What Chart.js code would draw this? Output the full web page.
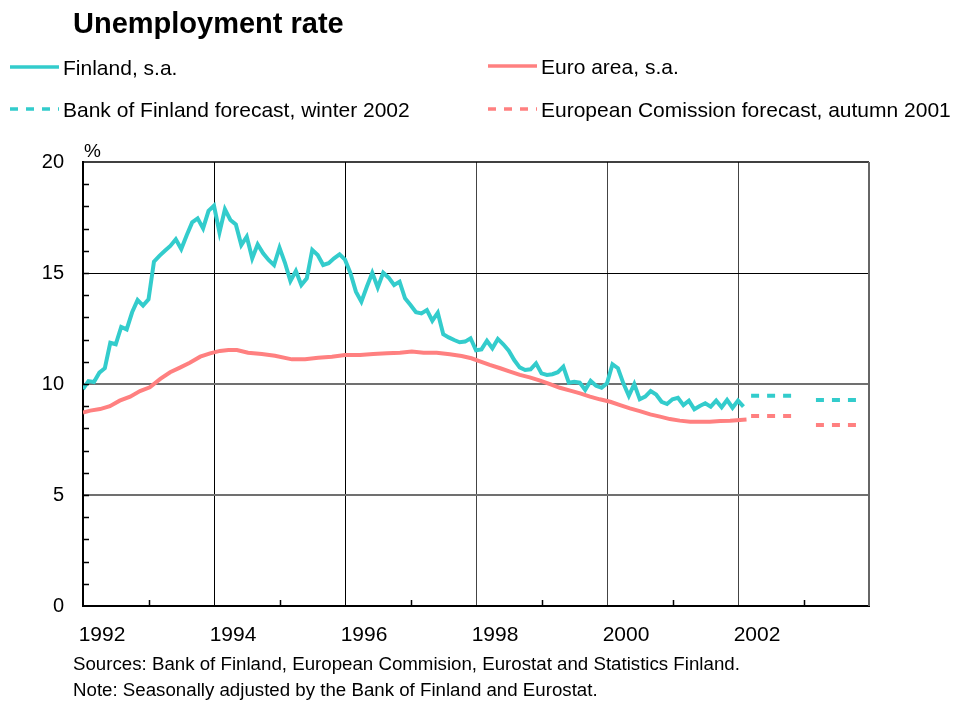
<!DOCTYPE html>
<html>
<head>
<meta charset="utf-8">
<title>Unemployment rate</title>
<script src="https://cdn.jsdelivr.net/npm/chart.js@4.4.1/dist/chart.umd.min.js"></script>
<style>
  html, body { margin: 0; padding: 0; background: #fff; }
  #wrap { width: 955px; height: 704px; }
</style>
</head>
<body>
<div id="wrap"><canvas id="unemployment-chart" width="955" height="704"></canvas></div>
<script>
//? Finland, monthly from Jan 1992, s.a. %
const finlandStart = 1992
const finland = [
    9.77, 10.13, 10.09, 10.51, 10.71, 11.86, 11.79, 12.57, 12.46, 13.23, 13.78, 13.53,
    13.81, 15.51, 15.77, 16.0, 16.22, 16.52, 16.08, 16.7, 17.28, 17.46, 17.01, 17.8,
    18.03, 16.83, 17.87, 17.39, 17.19, 16.26, 16.64, 15.66, 16.29, 15.89, 15.59, 15.36,
    16.14, 15.46, 14.64, 15.09, 14.46, 14.76, 16.04, 15.81, 15.36, 15.44, 15.66, 15.84,
    15.6, 14.99, 14.16, 13.71, 14.38, 15.01, 14.35, 15.01, 14.79, 14.46, 14.61, 13.86,
    13.56, 13.23, 13.18, 13.33, 12.85, 13.21, 12.24, 12.10, 11.98, 11.88, 11.91, 12.06,
    11.52, 11.56, 11.95, 11.61, 12.03, 11.79, 11.50, 11.08, 10.75, 10.63, 10.66, 10.93,
    10.48, 10.41, 10.44, 10.53, 10.78, 10.06, 10.10, 10.06, 9.73, 10.14, 9.92, 9.83,
    10.03, 10.89, 10.71, 10.03, 9.47, 10.0, 9.31, 9.43, 9.68, 9.53, 9.20, 9.10,
    9.31, 9.38, 9.05, 9.25, 8.86, 9.01, 9.13, 8.98, 9.25, 8.95, 9.28, 8.93,
    9.25, 8.98
]

//? Euro area, s.a. %
const euroYears = [
    1992.0, 1992.11, 1992.26, 1992.41, 1992.56, 1992.72, 1992.87, 1993.02, 1993.18, 1993.33,
    1993.48, 1993.63, 1993.79, 1993.94, 1994.09, 1994.22, 1994.35, 1994.52, 1994.73, 1994.93,
    1995.19, 1995.39, 1995.59, 1995.80, 1996.0, 1996.23, 1996.43, 1996.64, 1996.84, 1997.02,
    1997.2, 1997.4, 1997.6, 1997.78, 1997.93, 1998.06, 1998.21, 1998.37, 1998.52, 1998.67,
    1998.82, 1998.98, 1999.13, 1999.28, 1999.44, 1999.59, 1999.74, 1999.89, 2000.05, 2000.2,
    2000.35, 2000.5, 2000.66, 2000.81, 2000.96, 2001.11, 2001.27, 2001.42, 2001.57, 2001.73,
    2001.88, 2002.03, 2002.13
]
const euroValues = [
    8.71, 8.80, 8.87, 9.0, 9.25, 9.43, 9.68, 9.85, 10.23, 10.53,
    10.74, 10.96, 11.23, 11.38, 11.49, 11.53, 11.53, 11.41, 11.35, 11.27,
    11.11, 11.11, 11.18, 11.23, 11.31, 11.31, 11.35, 11.38, 11.41, 11.46,
    11.41, 11.41, 11.34, 11.26, 11.16, 11.02, 10.86, 10.71, 10.56, 10.41,
    10.30, 10.15, 9.99, 9.83, 9.70, 9.58, 9.43, 9.31, 9.20, 9.05,
    8.90, 8.78, 8.63, 8.53, 8.42, 8.35, 8.30, 8.30, 8.30, 8.33,
    8.35, 8.38, 8.40
]

//? Forecasts for 2002 and 2003
const forecastSpans = [[2002.2, 2002.82], [2003.19, 2003.82]]
const finlandForecast = [9.47, 9.28]
const euroForecast = [8.56, 8.15]

const yearLabels = [1992, 1994, 1996, 1998, 2000, 2002]
const sourceNotes = [
    'Sources: Bank of Finland, European Commision, Eurostat and Statistics Finland.',
    'Note: Seasonally adjusted by the Bank of Finland and Eurostat.'
]

const FONT = "'Liberation Sans', Arial, sans-serif"
const TEAL = '#33CCCC'
const SALMON = '#FF8080'

function forecastPoints(values) {
    const pts = []
    forecastSpans.forEach((span, i) => {
        if (i > 0) pts.push({ x: (forecastSpans[i - 1][1] + span[0]) / 2, y: null })
        pts.push({ x: span[0], y: values[i] }, { x: span[1], y: values[i] })
    })
    return pts
}

const dataRate = {
    datasets: [
        {
            label: 'Finland, s.a.',
            data: finland.map((v, i) => ({ x: finlandStart + i / 12, y: v })),
            borderColor: TEAL,
            borderWidth: 4
        },
        {
            label: 'Euro area, s.a.',
            data: euroYears.map((yr, i) => ({ x: yr, y: euroValues[i] })),
            borderColor: SALMON,
            borderWidth: 4
        },
        {
            label: 'Bank of Finland forecast, winter 2002',
            data: forecastPoints(finlandForecast),
            borderColor: TEAL,
            borderWidth: 4,
            borderDash: [8, 8],
            borderCapStyle: 'butt'
        },
        {
            label: 'European Comission forecast, autumn 2001',
            data: forecastPoints(euroForecast),
            borderColor: SALMON,
            borderWidth: 4,
            borderDash: [8, 8],
            borderCapStyle: 'butt'
        }
    ]
}

// legend slots: [x of line start, y of line]
const legendSlots = [[10, 67], [488, 66], [10, 109], [488, 109]]

const framePlugin = {
    id: 'frame',
    afterDraw(chart) {
        const { ctx, chartArea: a, scales } = chart
        ctx.save()

        // top and right edges of the plot box
        ctx.strokeStyle = '#000'
        ctx.lineWidth = 1.5
        ctx.beginPath()
        ctx.moveTo(a.left, a.top)
        ctx.lineTo(a.right, a.top)
        ctx.stroke()
        ctx.strokeStyle = '#666'
        ctx.lineWidth = 2
        ctx.beginPath()
        ctx.moveTo(a.right, a.top)
        ctx.lineTo(a.right, a.bottom)
        ctx.stroke()

        // small inner ticks
        ctx.strokeStyle = '#000'
        ctx.lineWidth = 1.5
        ctx.beginPath()
        for (let v = 1; v < 20; v++) {
            const y = Math.round(scales.y.getPixelForValue(v)) + 0.5
            ctx.moveTo(a.left, y)
            ctx.lineTo(a.left + 6, y)
        }
        for (let yr = 1993; yr < 2004; yr += 2) {
            const x = Math.round(scales.x.getPixelForValue(yr)) + 0.5
            ctx.moveTo(x, a.bottom)
            ctx.lineTo(x, a.bottom - 6)
        }
        ctx.stroke()

        ctx.fillStyle = '#000'
        ctx.textBaseline = 'alphabetic'
        ctx.textAlign = 'left'
        ctx.font = '19px ' + FONT
        ctx.fillText('%', a.left + 1, a.top - 5)

        // title
        ctx.font = 'bold 29px ' + FONT
        ctx.fillText('Unemployment rate', 73, 33)

        // legend
        ctx.font = '21px ' + FONT
        chart.data.datasets.forEach((ds, i) => {
            const [lx, ly] = legendSlots[i]
            ctx.strokeStyle = ds.borderColor
            ctx.lineWidth = 3.5
            ctx.setLineDash(ds.borderDash || [])
            ctx.beginPath()
            ctx.moveTo(lx, ly)
            ctx.lineTo(lx + 49, ly)
            ctx.stroke()
            ctx.setLineDash([])
            ctx.fillText(ds.label, lx + 53, ly + 8)
        })

        // source notes
        ctx.font = '18.7px ' + FONT
        ctx.fillText(sourceNotes[0], 73, 670)
        ctx.fillText(sourceNotes[1], 73, 696)

        ctx.restore()
    }
}

const configRate = {
    type: 'line',
    data: dataRate,
    options: {
        responsive: false,
        animation: false,
        devicePixelRatio: 1,
        layout: { padding: { top: 162, right: 86, bottom: 58, left: 0 } },
        elements: { point: { radius: 0 }, line: { tension: 0 } },
        plugins: { legend: { display: false }, tooltip: { enabled: false } },
        scales: {
            x: {
                type: 'linear',
                min: 1992,
                max: 2004,
                afterFit: scale => { scale.height = 40 },
                ticks: {
                    stepSize: 1,
                    autoSkip: false,
                    maxRotation: 0,
                    labelOffset: 19,
                    padding: 17,
                    color: '#000',
                    font: { family: FONT, size: 21 },
                    callback: v => yearLabels.includes(v) ? String(v) : ''
                },
                grid: {
                    drawTicks: false,
                    color: c => {
                        const v = c.tick && c.tick.value
                        if (v === 1994 || v === 1996) return '#000'
                        if (v === 1998 || v === 2000 || v === 2002) return '#444'
                        return 'rgba(0,0,0,0)'
                    },
                    lineWidth: 1
                },
                border: { display: true, color: '#000', width: 2 }
            },
            y: {
                min: 0,
                max: 20,
                afterFit: scale => { scale.width = 83 },
                ticks: {
                    stepSize: 1,
                    autoSkip: false,
                    padding: 19,
                    color: '#000',
                    font: { family: FONT, size: 20 },
                    callback: v => v % 5 === 0 ? String(v) : ''
                },
                grid: {
                    drawTicks: false,
                    color: c => {
                        const v = c.tick && c.tick.value
                        if (v === 15) return '#000'
                        if (v === 10 || v === 5) return '#707070'
                        return 'rgba(0,0,0,0)'
                    },
                    lineWidth: c => (c.tick && (c.tick.value === 10 || c.tick.value === 5)) ? 2 : 1
                },
                border: { display: true, color: '#000', width: 2 }
            }
        }
    },
    plugins: [framePlugin]
}

const rateCanvas = document.getElementById('unemployment-chart')
const rateChart = new Chart(rateCanvas, configRate)
</script>
</body>
</html>
